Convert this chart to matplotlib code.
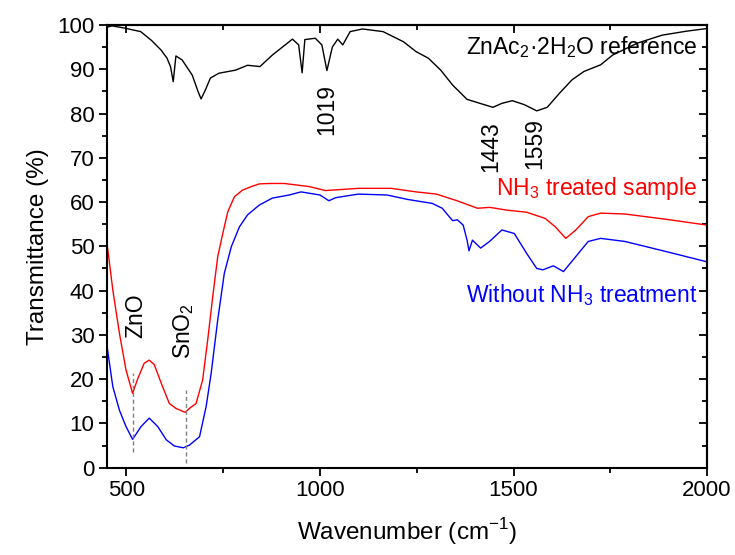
import matplotlib
matplotlib.use("Agg")
import matplotlib.pyplot as plt
from matplotlib.ticker import MultipleLocator

plt.rcParams['font.family'] = ['Liberation Sans', 'DejaVu Sans']

# ZnAc2.2H2O reference (black)
ref_w = [450, 463, 495, 537, 565, 590, 605, 614, 621, 628, 644, 670, 685, 693, 705, 717, 739, 782, 813, 845,
         877, 929, 945, 954, 961, 988, 1005, 1018, 1032, 1046, 1059, 1078, 1110, 1163, 1216, 1248, 1280, 1312,
         1343, 1380, 1417, 1447, 1470, 1497, 1528, 1560, 1587, 1619, 1651, 1682, 1725, 1756, 1820, 1884, 1947, 2000]
ref_t = [99.5, 99.8, 99.3, 98.5, 96.5, 94.3, 92.5, 90.6, 87.2, 93.0, 92.1, 88.7, 85.0, 83.3, 85.5, 88.0, 89.1, 89.8, 90.9, 90.6,
         93.2, 96.8, 95.5, 89.2, 96.7, 97.0, 95.5, 89.7, 95.0, 96.8, 95.5, 98.5, 99.1, 98.5, 96.2, 94.0, 92.5, 89.8,
         86.4, 83.2, 82.2, 81.4, 82.3, 82.9, 82.0, 80.6, 81.4, 84.6, 87.6, 89.5, 91.0, 93.2, 95.9, 97.7, 98.6, 99.2]

# NH3 treated sample (red)
nh3_w = [449, 465, 482, 499, 516, 529, 546, 559, 572, 590, 611, 628, 652, 663, 680, 697, 710, 723, 736, 749,
         762, 779, 800, 826, 843, 870, 908, 972, 1014, 1099, 1184, 1248, 1301, 1354, 1407, 1439, 1481, 1534, 1582,
         1608, 1635, 1661, 1693, 1725, 1788, 1895, 2000]
nh3_t = [51.4, 40.1, 30.4, 22.1, 16.8, 20.0, 23.6, 24.3, 23.3, 19.1, 14.5, 13.4, 12.5, 13.4, 14.5, 19.8, 28.8, 38.6, 47.7, 52.9,
         57.8, 61.2, 62.7, 63.6, 64.1, 64.2, 64.2, 63.5, 62.6, 63.1, 63.1, 62.3, 61.8, 60.3, 58.6, 58.8, 58.2, 57.7, 56.3,
         54.4, 51.8, 53.7, 56.7, 57.5, 57.3, 56.1, 54.8]

# Without NH3 treatment (blue)
raw_w = [449, 465, 482, 499, 516, 538, 559, 581, 603, 624, 647, 663, 689, 706, 719, 736, 753, 771, 792, 813,
         843, 877, 921, 951, 1000, 1023, 1041, 1099, 1173, 1226, 1290, 1316, 1332, 1343, 1355, 1370, 1380,
         1385, 1394, 1415, 1438, 1470, 1502, 1534, 1560, 1576, 1603, 1629, 1661, 1693, 1725, 1788, 1895, 2000]
raw_t = [28.1, 18.3, 13.0, 9.3, 6.4, 9.3, 11.2, 9.3, 6.3, 4.9, 4.5, 5.1, 7.0, 13.8, 21.3, 33.4, 43.9, 49.9, 54.4, 57.1,
         59.3, 60.9, 61.6, 62.3, 61.6, 60.3, 61.0, 61.8, 61.6, 60.6, 59.7, 58.6, 56.9, 55.8, 56.0, 54.8, 51.4,
         49.0, 51.4, 49.6, 51.1, 53.7, 52.9, 48.4, 45.0, 44.7, 45.6, 44.3, 47.7, 51.1, 51.8, 51.1, 48.8, 46.5]

# Peak marker lines
marker_w = [516, 654]
marker_top = [21.3, 17.5]
marker_bot = [3.6, 1.0]

fig = plt.figure(figsize=(7.35, 5.55), dpi=100)
ax = fig.add_axes([0.1456, 0.1573, 0.962 - 0.1456, 0.955 - 0.1573])

ax.plot(ref_w, ref_t, color='black', lw=1.0)
ax.plot(nh3_w, nh3_t, color='red', lw=1.0)
ax.plot(raw_w, raw_t, color='blue', lw=1.0)

for w, t0, t1 in zip(marker_w, marker_top, marker_bot):
    ax.plot([w, w], [t1, t0], color='gray', lw=1.0, ls=(0, (3, 2)))

ax.set_xlim(450, 2000)
ax.set_ylim(0, 100)
ax.xaxis.set_major_locator(MultipleLocator(500))
ax.xaxis.set_minor_locator(MultipleLocator(250))
ax.yaxis.set_major_locator(MultipleLocator(10))
ax.yaxis.set_minor_locator(MultipleLocator(5))

ax.tick_params(which='both', direction='out', top=False, right=False, width=1.3, labelsize=16, pad=3)
ax.tick_params(which='major', length=6)
ax.tick_params(which='minor', length=3.5)
for s in ax.spines.values():
    s.set_linewidth(1.5)

# mirrored inward ticks on top and right
axt = ax.secondary_xaxis('top')
axt.xaxis.set_major_locator(MultipleLocator(500))
axt.xaxis.set_minor_locator(MultipleLocator(250))
axt.tick_params(which='both', direction='in', labeltop=False, width=1.3)
axt.tick_params(which='major', length=6)
axt.tick_params(which='minor', length=3.5)
axt.spines['top'].set_linewidth(1.5)
axr = ax.secondary_yaxis('right')
axr.yaxis.set_major_locator(MultipleLocator(10))
axr.yaxis.set_minor_locator(MultipleLocator(5))
axr.tick_params(which='both', direction='in', labelright=False, width=1.3)
axr.tick_params(which='major', length=6)
axr.tick_params(which='minor', length=3.5)
axr.spines['right'].set_linewidth(1.5)

ax.set_xlabel('Wavenumber (cm$^{\\mathregular{-1}}$)', fontsize=17.5, labelpad=11)
ax.set_ylabel('Transmittance (%)', fontsize=17.5, labelpad=6)

fs = 16.5
ax.text(1975, 95, 'ZnAc$_\\mathregular{2}$·2H$_\\mathregular{2}$O reference', fontsize=fs, ha='right', va='center', color='black')
ax.text(1975, 63, 'NH$_\\mathregular{3}$ treated sample', fontsize=fs, ha='right', va='center', color='red')
ax.text(1975, 39, 'Without NH$_\\mathregular{3}$ treatment', fontsize=fs, ha='right', va='center', color='blue')

ax.text(1017, 81, '1019', fontsize=fs, rotation=90, ha='center', va='center')
ax.text(1442, 72.6, '1443', fontsize=fs, rotation=90, ha='center', va='center')
ax.text(1554, 73.2, '1559', fontsize=fs, rotation=90, ha='center', va='center')
ax.text(523, 34.3, 'ZnO', fontsize=fs, rotation=90, ha='center', va='center')
ax.text(647, 30.8, 'SnO$_\\mathregular{2}$', fontsize=fs, rotation=90, ha='center', va='center')

fig.savefig('out.png', dpi=100)
